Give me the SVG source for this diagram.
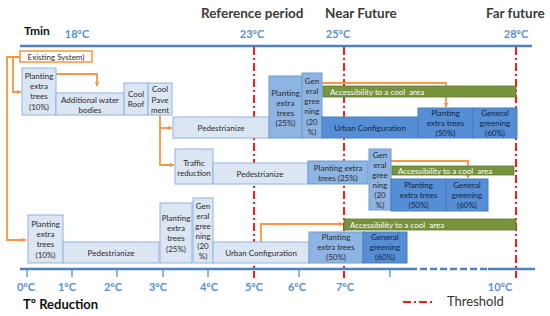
<svg xmlns="http://www.w3.org/2000/svg" width="550" height="316" viewBox="0 0 550 316">
<defs>
<style>
text{font-family:Lato,"Liberation Sans",sans-serif;}
.bx text{font-size:8px;text-anchor:middle;fill:#2b2b2b;}
.lt rect{fill:#dce6f2;stroke:#8eb4e3;stroke-width:1;}
.md rect{fill:#8eb4e3;stroke:#6f9bd1;stroke-width:1;}
.dk rect{fill:#558ed5;stroke:#4a7ebb;stroke-width:1;}
.dk text{fill:#14233f;}
.gr rect{fill:#77933c;stroke:#62792f;stroke-width:0.8;}
.gr text{fill:#fff;text-anchor:start;white-space:pre;}
.hd{font-size:13.5px;font-weight:bold;fill:#3a3a3a;}
.tl{font-size:11px;font-weight:bold;fill:#5b8fd4;text-anchor:middle;}
.ax{stroke:#4f81bd;stroke-width:2.5;fill:none;}
.tk{stroke:#4f81bd;stroke-width:1.2;}
.th{stroke:#ff1a1a;stroke-width:2;stroke-dasharray:8 3 2 3;fill:none;}
.or{stroke:#f79646;stroke-width:1.8;fill:none;}
</style>
<marker id="ah" viewBox="0 0 10 10" refX="9" refY="5" markerWidth="4.5" markerHeight="4.5" orient="auto" markerUnits="userSpaceOnUse">
<path d="M0,0 L10,5 L0,10 z" fill="#f79646"/>
</marker>
</defs>
<rect width="550" height="316" fill="#fff"/>

<g id="headers">
<text class="hd" x="201" y="18">Reference period</text>
<text class="hd" x="325" y="18">Near Future</text>
<text class="hd" x="486" y="18">Far future</text>
<text x="24" y="35" font-size="12" font-weight="bold" fill="#111">Tmin</text>
<text class="tl" x="77" y="38">18ºC</text>
<text class="tl" x="252" y="38">23ºC</text>
<text class="tl" x="338" y="38">25ºC</text>
<text class="tl" x="516" y="38">28ºC</text>
</g>

<g id="thresholds">
<line class="th" x1="254" y1="47" x2="254" y2="278"/>
<line class="th" x1="344" y1="47" x2="344" y2="278"/>
<line class="th" x1="516" y1="47" x2="516" y2="278"/>
</g>

<g id="axes">
<line class="ax" x1="20" y1="46" x2="532" y2="46"/>
<line class="ax" x1="20" y1="269" x2="410" y2="269"/>
<line class="ax" x1="410" y1="269" x2="488" y2="269" stroke-dasharray="7 3"/>
<line class="ax" x1="488" y1="269" x2="535" y2="269"/>
<g class="tk">
<line x1="27" y1="269" x2="27" y2="277"/>
<line x1="72" y1="269" x2="72" y2="277"/>
<line x1="117" y1="269" x2="117" y2="277"/>
<line x1="163" y1="269" x2="163" y2="277"/>
<line x1="208" y1="269" x2="208" y2="277"/>
<line x1="299" y1="269" x2="299" y2="277"/>
<line x1="390" y1="269" x2="390" y2="277"/>
</g>
<text class="tl" x="26" y="291">0ºC</text>
<text class="tl" x="67" y="291">1ºC</text>
<text class="tl" x="113" y="291">2ºC</text>
<text class="tl" x="158" y="291">3ºC</text>
<text class="tl" x="209" y="291">4ºC</text>
<text class="tl" x="254" y="291">5ºC</text>
<text class="tl" x="297" y="291">6ºC</text>
<text class="tl" x="345" y="291">7ºC</text>
<text class="tl" x="500" y="291">10ºC</text>
<text x="23" y="309" font-size="13" font-weight="bold" fill="#111">Tº Reduction</text>
</g>

<g id="legend">
<line class="th" x1="403" y1="302" x2="432" y2="302"/>
<text x="447" y="306" font-size="13" fill="#333">Threshold</text>
</g>

<g id="connectors">
<path class="or" d="M20,57 H7 V240 H26" marker-end="url(#ah)"/>
<path class="or" d="M13,57 V92 H21" marker-end="url(#ah)"/>
<path class="or" d="M56,74 H97 V86" marker-end="url(#ah)"/>
<path class="or" d="M160,115 V165 H174" marker-end="url(#ah)"/>
<path class="or" d="M160,128 H172" marker-end="url(#ah)"/>
<path class="or" d="M322,83 H446 V107" marker-end="url(#ah)"/>
<path class="or" d="M391,161 H468 V178" marker-end="url(#ah)"/>
<path class="or" d="M261,242 V224 H343" marker-end="url(#ah)"/>
</g>

<g id="existing-system" class="bx">
<rect x="20" y="51" width="72" height="11" fill="#fff" stroke="#f79646" stroke-width="1.5"/>
<text x="56" y="59.5">Existing System)</text>
</g>

<!-- Row 1 -->
<g id="r1-planting10" class="bx lt"><rect x="22" y="68" width="34" height="47"/>
<text x="39" y="79">Planting</text><text x="39" y="89">extra</text><text x="39" y="99">trees</text><text x="39" y="110">(10%)</text></g>
<g id="r1-water" class="bx lt"><rect x="56" y="93" width="68" height="22"/>
<text x="90" y="103">Additional water</text><text x="90" y="113">bodies</text></g>
<g id="r1-coolroof" class="bx lt"><rect x="124" y="83" width="24" height="32"/>
<text x="136" y="97">Cool</text><text x="136" y="107">Roof</text></g>
<g id="r1-coolpave" class="bx lt"><rect x="148" y="83" width="24" height="32"/>
<text x="160" y="92">Cool</text><text x="160" y="102.5">Pave</text><text x="160" y="113">ment</text></g>

<!-- Row 2 -->
<g id="r2-pedestrianize" class="bx lt"><rect x="173" y="117" width="96" height="21"/>
<text x="221" y="131">Pedestrianize</text></g>
<g id="r2-planting25" class="bx md"><rect x="269" y="76" width="33" height="62"/>
<text x="285.5" y="96">Planting</text><text x="285.5" y="106">extra</text><text x="285.5" y="116">trees</text><text x="285.5" y="126">(25%)</text></g>
<g id="r2-greening20" class="bx md"><rect x="302" y="73" width="20" height="65"/>
<text x="312" y="84">Gen</text><text x="312" y="94">eral</text><text x="312" y="104">gree</text><text x="312" y="114">ning</text><text x="312" y="125">(20</text><text x="312" y="135">%)</text></g>
<g id="r2-urban" class="bx dk"><rect x="322" y="117" width="96" height="21"/>
<text x="370" y="131">Urban Configuration</text></g>
<g id="r2-planting50" class="bx dk"><rect x="418" y="108" width="55" height="30"/>
<text x="445.5" y="116">Planting</text><text x="445.5" y="126">extra trees</text><text x="445.5" y="136">(50%)</text></g>
<g id="r2-greening60" class="bx dk"><rect x="473" y="108" width="44" height="30"/>
<text x="495" y="116">General</text><text x="495" y="126">greening</text><text x="495" y="136">(60%)</text></g>
<g id="r2-access" class="bx gr"><rect x="323" y="86" width="193" height="11"/>
<text x="330" y="94.5">Accessibility to a cool  area</text></g>

<!-- Row 3 -->
<g id="r3-traffic" class="bx lt"><rect x="175" y="149" width="38" height="35"/>
<text x="194" y="166">Traffic</text><text x="194" y="176">reduction</text></g>
<g id="r3-pedestrianize" class="bx lt"><rect x="213" y="163" width="95" height="21"/>
<text x="260" y="177">Pedestrianize</text></g>
<g id="r3-planting25" class="bx md"><rect x="308" y="161" width="60" height="23"/>
<text x="338" y="171">Planting extra</text><text x="338" y="181">trees (25%)</text></g>
<g id="r3-greening20" class="bx md"><rect x="369" y="149" width="22" height="61"/>
<text x="380" y="158">Gen</text><text x="380" y="168">eral</text><text x="380" y="178">gree</text><text x="380" y="188">ning</text><text x="380" y="198">(20</text><text x="380" y="208">%)</text></g>
<g id="r3-planting50" class="bx dk"><rect x="391" y="179" width="55" height="32"/>
<text x="418.5" y="188">Planting</text><text x="418.5" y="198">extra trees</text><text x="418.5" y="208">(50%)</text></g>
<g id="r3-greening60" class="bx dk"><rect x="446" y="179" width="42" height="32"/>
<text x="467" y="188">General</text><text x="467" y="198">greening</text><text x="467" y="208">(60%)</text></g>
<g id="r3-access" class="bx gr"><rect x="392" y="166" width="122" height="9"/>
<text x="398" y="173.5">Accessibility to a cool  area</text></g>

<!-- Row 4 -->
<g id="r4-planting10" class="bx lt"><rect x="28" y="215" width="35" height="48"/>
<text x="45.5" y="227">Planting</text><text x="45.5" y="237">extra</text><text x="45.5" y="247">trees</text><text x="45.5" y="258">(10%)</text></g>
<g id="r4-pedestrianize" class="bx lt"><rect x="63" y="242" width="96" height="21"/>
<text x="111" y="256">Pedestrianize</text></g>
<g id="r4-planting25" class="bx lt"><rect x="160" y="203" width="32" height="60"/>
<text x="176" y="221">Planting</text><text x="176" y="231">extra</text><text x="176" y="241">trees</text><text x="176" y="252">(25%)</text></g>
<g id="r4-greening20" class="bx lt"><rect x="193" y="198" width="20" height="65"/>
<text x="203" y="209">Gen</text><text x="203" y="219">eral</text><text x="203" y="229">gree</text><text x="203" y="239">ning</text><text x="203" y="249">(20</text><text x="203" y="259">%)</text></g>
<g id="r4-urban" class="bx lt"><rect x="213" y="242" width="96" height="21"/>
<text x="261" y="256">Urban Configuration</text></g>
<g id="r4-planting50" class="bx md"><rect x="309" y="232" width="54" height="31"/>
<text x="336" y="240">Planting</text><text x="336" y="250">extra trees</text><text x="336" y="260">(50%)</text></g>
<g id="r4-greening60" class="bx dk"><rect x="363" y="232" width="44" height="31"/>
<text x="385" y="240">General</text><text x="385" y="250">greening</text><text x="385" y="260">(60%)</text></g>
<g id="r4-access" class="bx gr"><rect x="344" y="219" width="172" height="11"/>
<text x="350" y="227.5">Accessibility to a cool  area</text></g>
</svg>
